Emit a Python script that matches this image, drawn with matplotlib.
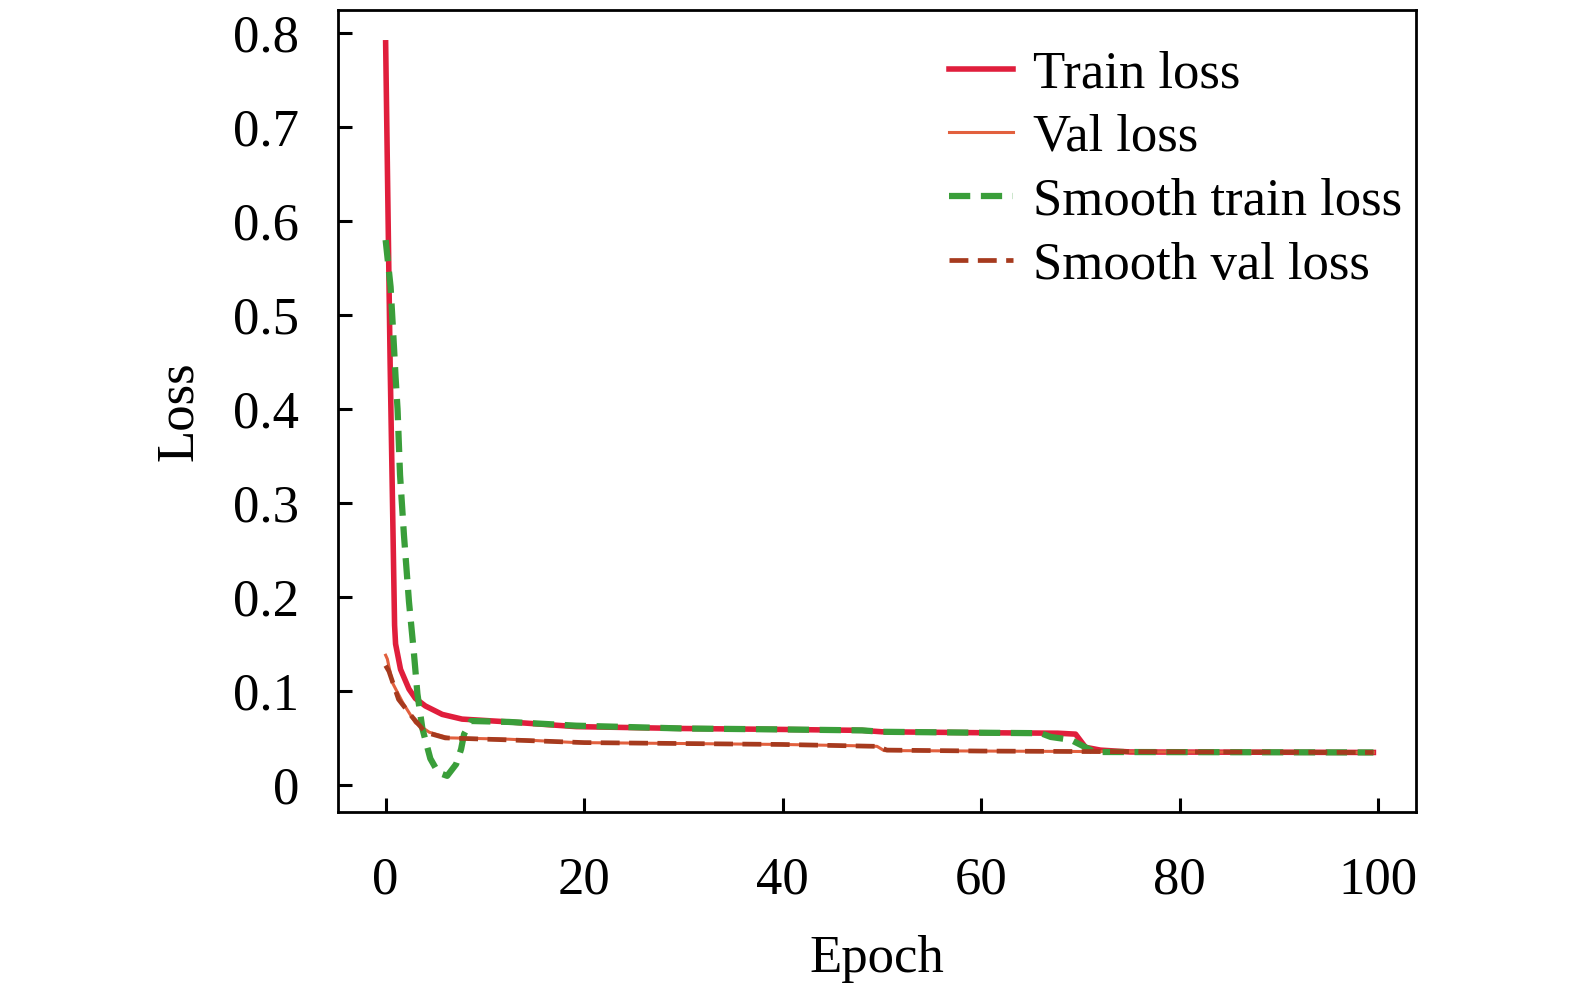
import matplotlib

matplotlib.use("Agg")
import matplotlib.pyplot as plt

# values
train_epoch = [0, 0.45, 0.9, 1.0, 1.5, 2.35, 3.0, 4.0, 5.7, 7.7, 12.4, 19.2, 30, 40, 48, 50, 60, 67.7, 69.5, 70.5, 72, 75, 99.5]
train_loss = [0.79, 0.45, 0.17, 0.150, 0.123, 0.102, 0.092, 0.084, 0.075, 0.070, 0.067, 0.062, 0.060, 0.059, 0.058, 0.0565, 0.0555, 0.055, 0.054, 0.040, 0.037, 0.035, 0.0345]

val_epoch = [0, 0.17, 0.67, 1.7, 3.0, 4.4, 6.4, 12.4, 19.2, 30, 40, 48, 49.5, 50.2, 60, 70, 80, 99.5]
val_loss = [0.138, 0.134, 0.109, 0.088, 0.066, 0.056, 0.050, 0.0486, 0.045, 0.044, 0.043, 0.0415, 0.041, 0.0365, 0.036, 0.0355, 0.035, 0.0345]

smooth_train_epoch = [0, 0.5, 0.84, 1.0, 1.2, 1.45, 1.85, 2.35, 2.85, 3.2, 3.7, 4.5, 5.3, 6.2, 7.1, 7.6, 7.9, 8.6, 12.4, 19.2, 30, 40, 48, 50, 60, 66, 67, 69, 70.5, 71.4, 99.5]
smooth_train_loss = [0.58, 0.53, 0.466, 0.434, 0.40, 0.33, 0.265, 0.195, 0.14, 0.097, 0.06, 0.028, 0.013, 0.0096, 0.022, 0.038, 0.054, 0.068, 0.067, 0.063, 0.060, 0.059, 0.058, 0.0565, 0.0555, 0.055, 0.051, 0.048, 0.040, 0.035, 0.0345]

smooth_val_epoch = [0, 0.33, 1.3, 2.7, 4.0, 6.0, 12, 20, 30, 40, 49.5, 50.5, 60, 70, 99.5]
smooth_val_loss = [0.127, 0.121, 0.091, 0.072, 0.056, 0.050, 0.048, 0.045, 0.044, 0.043, 0.041, 0.037, 0.036, 0.0355, 0.0345]

x_ticks = [0, 20, 40, 60, 80, 100]
y_ticks = [0, 0.1, 0.2, 0.3, 0.4, 0.5, 0.6, 0.7, 0.8]
y_tick_labels = ["0", "0.1", "0.2", "0.3", "0.4", "0.5", "0.6", "0.7", "0.8"]

plt.rcParams["font.family"] = ["Liberation Serif", "DejaVu Serif"]

fig = plt.figure(figsize=(15.75, 9.94), dpi=100)
ax = fig.add_axes([0.2146, 0.183, 0.6845, 0.807])

ax.plot(train_epoch, train_loss, color="#E01E3C", lw=4.0, label="Train loss", zorder=2)
ax.plot(val_epoch, val_loss, color="#E2603E", lw=2.2, label="Val loss", zorder=3)
ax.plot(smooth_train_epoch, smooth_train_loss, color="#3A9E3A", lw=4.5, dashes=(3.4, 1.7), label="Smooth train loss", zorder=4)
ax.plot(smooth_val_epoch, smooth_val_loss, color="#A63A1E", lw=3.4, dashes=(4.0, 2.0), label="Smooth val loss", zorder=5)

ax.set_xlim(-4.8, 103.8)
ax.set_ylim(-0.029, 0.825)
ax.set_xticks(x_ticks)
ax.set_yticks(y_ticks)
ax.set_yticklabels(y_tick_labels)
ax.tick_params(direction="in", length=10, width=2.2, labelsize=38)
ax.tick_params(axis="y", pad=28)
ax.tick_params(axis="x", pad=32)
for spine in ax.spines.values():
    spine.set_linewidth(2.0)

ax.set_xlabel("Epoch", fontsize=38, labelpad=22)
ax.set_ylabel("Loss", fontsize=38, labelpad=22)

ax.legend(loc="upper right", bbox_to_anchor=(1.021, 0.996), frameon=False, fontsize=38,
          handlelength=1.2, handletextpad=0.38, labelspacing=0.30, borderaxespad=0.3)

fig.savefig("out.png", dpi=100)
